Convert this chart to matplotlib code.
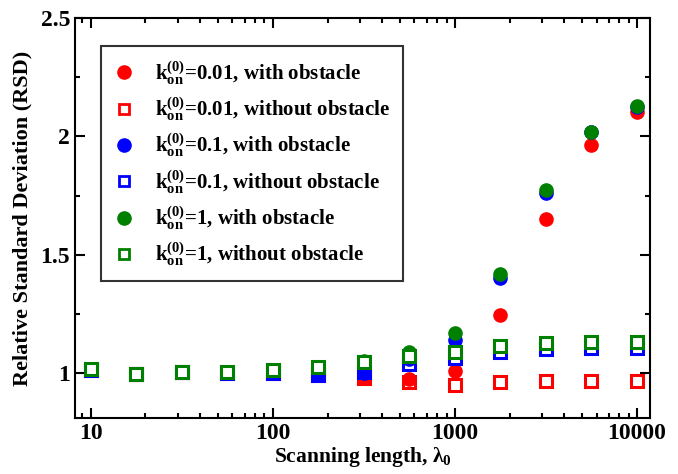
import matplotlib
matplotlib.use("Agg")
import matplotlib.pyplot as plt
from matplotlib.ticker import MultipleLocator, FuncFormatter, LogLocator

plt.rcParams['font.family'] = ['Liberation Serif', 'DejaVu Serif']
plt.rcParams['font.weight'] = 'bold'
plt.rcParams['axes.labelweight'] = 'bold'
plt.rcParams['mathtext.fontset'] = 'custom'
plt.rcParams['mathtext.rm'] = 'Liberation Serif:bold'
plt.rcParams['mathtext.it'] = 'Liberation Serif:bold'
plt.rcParams['mathtext.bf'] = 'Liberation Serif:bold'

# scanning length (quarter decades)
lam = [10, 17.78, 31.62, 56.23, 100, 177.8, 316.2, 562.3, 1000, 1778, 3162, 5623, 10000]

# k_on = 0.01
red_obs = [1.015, 0.996, 1.004, 1.002, 1.0, 0.99, 0.98, 0.977, 1.01, 1.245, 1.65, 1.965, 2.105]
red_free = [1.015, 0.996, 1.004, 1.002, 1.0, 0.99, 0.98, 0.962, 0.95, 0.962, 0.967, 0.967, 0.968]
# k_on = 0.1
blue_obs = [1.015, 0.996, 1.004, 1.002, 1.0, 0.99, 1.0, 1.06, 1.14, 1.40, 1.76, 2.02, 2.125]
blue_free = [1.015, 0.996, 1.004, 1.002, 1.0, 0.99, 1.003, 1.038, 1.065, 1.09, 1.103, 1.105, 1.105]
# k_on = 1
green_obs = [1.017, 0.997, 1.005, 1.003, 1.012, 1.025, 1.05, 1.09, 1.17, 1.42, 1.775, 2.02, 2.13]
green_free = [1.017, 0.997, 1.005, 1.003, 1.012, 1.025, 1.047, 1.072, 1.09, 1.115, 1.128, 1.13, 1.132]

kon_labels = ['0.01', '0.1', '1']
colors = ['#ff0000', '#0000ff', '#008000']

fig = plt.figure(figsize=(6.78, 4.74), dpi=100)
ax = fig.add_axes([0.1106, 0.118, 0.8481, 0.844])

series = [(red_obs, red_free), (blue_obs, blue_free), (green_obs, green_free)]
handles = []
for i, (obs, free) in enumerate(series):
    kl = r'$\mathrm{k_{on}^{(0)}}$=' + kon_labels[i]
    h1, = ax.plot(lam, obs, 'o', ms=9.5, color=colors[i], mec=colors[i],
                  label=kl + ', with obstacle', zorder=3 + 2 * i)
    h2, = ax.plot(lam, free, 's', ms=8.5, color=colors[i], mfc='white', mew=2.2,
                  label=kl + ', without obstacle', zorder=3 + 2 * i + (1 if i == 2 else -0.5))
    handles += [h1, h2]

ax.set_xscale('log')
ax.set_xlim(8.2, 11800)
ax.set_ylim(0.81, 2.5)
ax.yaxis.set_major_locator(MultipleLocator(0.5))
ax.yaxis.set_minor_locator(MultipleLocator(0.25))
ax.yaxis.set_major_formatter(FuncFormatter(lambda v, p: f'{v:g}'))
ax.xaxis.set_major_locator(LogLocator(base=10))
ax.xaxis.set_minor_locator(LogLocator(base=10, subs=range(2, 10)))
ax.xaxis.set_major_formatter(FuncFormatter(lambda v, p: f'{v:g}'))

ax.tick_params(which='both', direction='in', top=True, right=True, width=1.5,
               labelsize=17)
ax.tick_params(which='major', length=7)
ax.tick_params(which='minor', length=3.5)
for s in ax.spines.values():
    s.set_linewidth(1.5)

ax.set_xlabel(r'Scanning length, $\lambda_0$', fontsize=15.5, fontweight='bold', labelpad=1)
ax.set_ylabel('Relative Standard Deviation (RSD)', fontsize=16, fontweight='bold', labelpad=6)

leg = ax.legend(handles=handles, loc='upper left', bbox_to_anchor=(0.027, 0.955),
                prop={'size': 15, 'weight': 'bold'}, frameon=True, fancybox=False,
                edgecolor='black', handlelength=1.0, handletextpad=1.0,
                labelspacing=0.42, borderpad=0.6, markerscale=1.0)
leg.get_frame().set_linewidth(1.5)
for lh in leg.legend_handles[1::2]:
    lh.set_markersize(7)
    lh.set_markeredgewidth(2)

fig.savefig('out.png', dpi=100)
